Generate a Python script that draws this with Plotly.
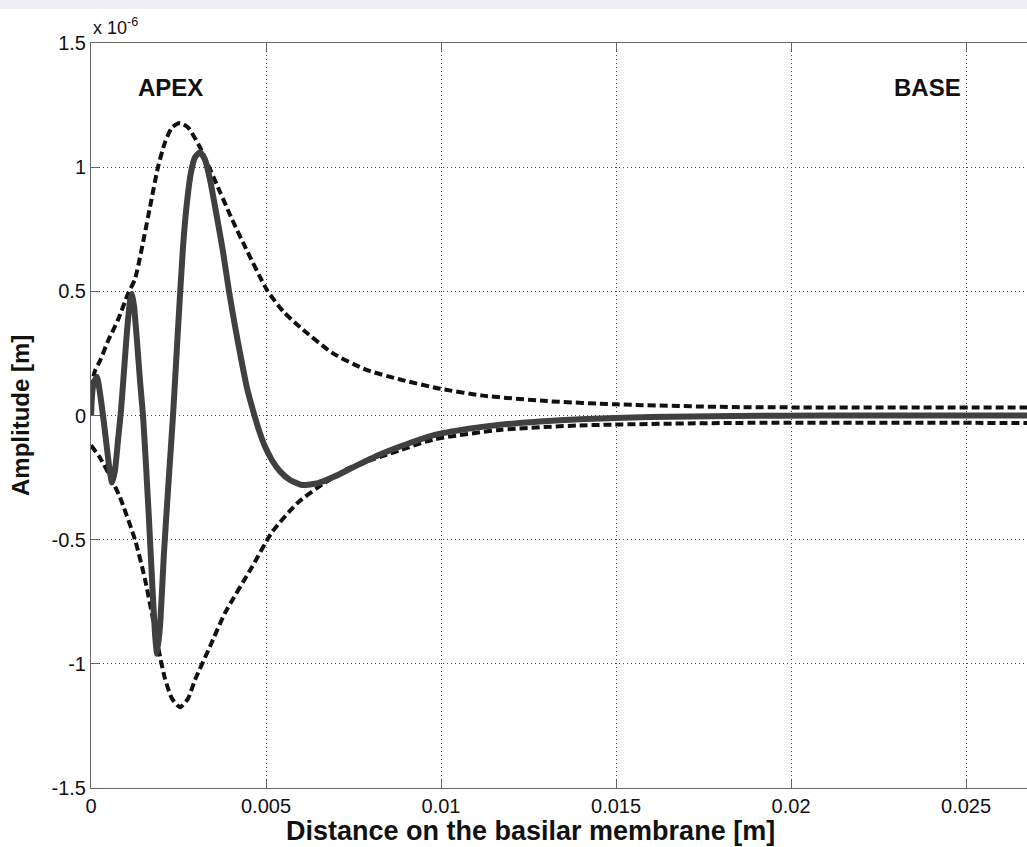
import plotly.graph_objects as go

# Distance along the basilar membrane [m]
solid_x = [0.0, 0.0000286, 0.0000714, 0.000171, 0.000257, 0.000343, 0.000429, 0.000514,
           0.0006, 0.000686, 0.000771, 0.000857, 0.000943, 0.001029, 0.001114, 0.001171,
           0.001229, 0.001314, 0.0014, 0.001486, 0.001571, 0.001657, 0.001743, 0.001829,
           0.001886, 0.001971, 0.002086, 0.0022, 0.002343, 0.002486, 0.002629, 0.002743,
           0.002857, 0.002971, 0.003114, 0.003257, 0.0034, 0.003571, 0.003771, 0.003943,
           0.004114, 0.004286, 0.004457, 0.004629, 0.0048, 0.004971, 0.005171, 0.0054,
           0.005686, 0.006029, 0.006486, 0.006971, 0.0074, 0.007829, 0.008257, 0.008829,
           0.009771, 0.0108, 0.011686, 0.012829, 0.013971, 0.015971, 0.018343, 0.0210, 0.0268]
# Displacement (x 1e-6 m)
solid_y = [0.0, 0.08, 0.13, 0.155, 0.09, 0.0, -0.10, -0.20,
           -0.27, -0.22, -0.10, 0.02, 0.18, 0.34, 0.46, 0.49,
           0.44, 0.30, 0.14, 0.0, -0.20, -0.42, -0.66, -0.88,
           -0.96, -0.85, -0.55, -0.30, 0.0, 0.35, 0.68, 0.86,
           0.98, 1.04, 1.06, 1.03, 0.95, 0.82, 0.66, 0.50,
           0.36, 0.23, 0.11, 0.02, -0.06, -0.125, -0.18, -0.225,
           -0.26, -0.28, -0.272, -0.245, -0.215, -0.185, -0.157, -0.125,
           -0.08, -0.053, -0.037, -0.024, -0.015, -0.006, -0.002, 0.0, 0.0]

upper_x = [0.0, 0.000114, 0.000257, 0.000486, 0.000771, 0.001057, 0.001257, 0.001686,
           0.001914, 0.002114, 0.002314, 0.002543, 0.002771, 0.003114, 0.003686, 0.004029,
           0.0044, 0.005029, 0.005486, 0.005971, 0.006914, 0.007886, 0.008829, 0.009971,
           0.0112, 0.013029, 0.015, 0.018343, 0.0268]
upper_y = [0.11, 0.18, 0.22, 0.30, 0.385, 0.49, 0.55, 0.84,
           1.00, 1.10, 1.16, 1.178, 1.16, 1.08, 0.90, 0.79,
           0.68, 0.505, 0.42, 0.356, 0.25, 0.183, 0.145, 0.108,
           0.08, 0.058, 0.045, 0.034, 0.032]

lower_x = [0.0, 0.000257, 0.0006, 0.000829, 0.001257, 0.001543, 0.001743, 0.001971,
           0.002114, 0.002314, 0.002543, 0.002771, 0.002971, 0.0034, 0.003829, 0.0046,
           0.005171, 0.005914, 0.006686, 0.0074, 0.008829, 0.009771, 0.011686, 0.013971,
           0.018343, 0.0268]
lower_y = [-0.12, -0.17, -0.26, -0.33, -0.50, -0.66, -0.80, -0.97,
           -1.06, -1.14, -1.175, -1.14, -1.065, -0.93, -0.795, -0.61,
           -0.47, -0.35, -0.27, -0.21, -0.14, -0.097, -0.058, -0.04,
           -0.03, -0.03]

x_ticks = [0, 0.005, 0.01, 0.015, 0.02, 0.025]
x_tick_labels = ["0", "0.005", "0.01", "0.015", "0.02", "0.025"]
y_ticks = [-1.5, -1, -0.5, 0, 0.5, 1, 1.5]
y_tick_labels = ["-1.5", "-1", "-0.5", "0", "0.5", "1", "1.5"]

FONT = "Liberation Sans, Arial, sans-serif"

fig = go.Figure()
fig.add_trace(go.Scatter(x=upper_x, y=upper_y, mode="lines", line_shape="spline",
                         line=dict(color="#111111", width=4, dash="8px,4px", smoothing=0.6),
                         showlegend=False, hoverinfo="skip"))
fig.add_trace(go.Scatter(x=lower_x, y=lower_y, mode="lines", line_shape="spline",
                         line=dict(color="#111111", width=4, dash="8px,4px", smoothing=0.6),
                         showlegend=False, hoverinfo="skip"))
fig.add_trace(go.Scatter(x=solid_x, y=solid_y, mode="lines", line_shape="spline",
                         line=dict(color="#404040", width=6, smoothing=0.5),
                         showlegend=False))

axis_font = dict(family=FONT, size=20, color="#111111")

fig.update_layout(
    width=1027, height=847,
    margin=dict(l=91, r=0, t=43, b=59),
    paper_bgcolor="white", plot_bgcolor="white",
    font=axis_font,
    xaxis=dict(range=[0, 0.02674], tickvals=x_ticks, ticktext=x_tick_labels,
               showgrid=True, gridcolor="#444444", griddash="1px,3px", gridwidth=1,
               showline=True, linecolor="#666666", linewidth=1, mirror="ticks",
               ticks="inside", ticklen=8, tickcolor="#666666",
               zeroline=False, tickfont=axis_font),
    yaxis=dict(range=[-1.5, 1.5], tickvals=y_ticks, ticktext=y_tick_labels,
               showgrid=True, gridcolor="#444444", griddash="1px,3px", gridwidth=1,
               showline=True, linecolor="#666666", linewidth=1, mirror=False,
               ticks="inside", ticklen=8, tickcolor="#666666",
               zeroline=False, tickfont=axis_font),
    annotations=[
        dict(x=(530 - 91) / 936, y=(788 - 831) / 745, xref="paper", yref="paper",
             xanchor="center", yanchor="middle",
             text="<b>Distance on the basilar membrane [m]</b>", showarrow=False,
             font=dict(family=FONT, size=27, color="#111111")),
        dict(x=(20 - 91) / 936, y=(788 - 416) / 745, xref="paper", yref="paper",
             xanchor="center", yanchor="middle", textangle=-90,
             text="<b>Amplitude [m]</b>", showarrow=False,
             font=dict(family=FONT, size=24, color="#111111")),
        dict(x=0.00226, y=1.32, xref="x", yref="y", text="<b>APEX</b>", showarrow=False,
             font=dict(family=FONT, size=24, color="#111111")),
        dict(x=0.02391, y=1.32, xref="x", yref="y", text="<b>BASE</b>", showarrow=False,
             font=dict(family=FONT, size=24, color="#111111")),
        dict(x=0, y=1, xref="paper", yref="paper", xanchor="left", yanchor="bottom",
             xshift=0, yshift=3, text="x 10<sup>-6</sup>", showarrow=False,
             font=dict(family=FONT, size=18, color="#111111")),
    ],
    shapes=[
        dict(type="rect", xref="paper", yref="paper",
             x0=-91 / 936, x1=1.0, y0=1 + 34 / 745, y1=1 + 43 / 745,
             fillcolor="#eeeef2", line=dict(width=0), layer="below"),
    ],
)

fig.write_html("out.html")
